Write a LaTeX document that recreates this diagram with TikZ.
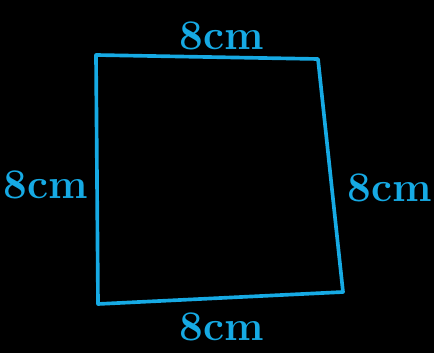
\documentclass[tikz,border=0pt]{standalone}
\usepackage{tikz}
\usetikzlibrary{positioning}
\definecolor{PenBlue}{RGB}{22,170,228}
\begin{document}
\begin{tikzpicture}[x=0.025cm, y=-0.025cm,
	side/.style={draw=PenBlue, line width=2.6pt, line join=round, line cap=round},
	len/.style={text=PenBlue, font=\fontsize{30}{30}\selectfont\bfseries, inner sep=0pt}]
	% fondo negro
	\fill[black] (0,0) rectangle (434,353);
	\useasboundingbox (0,0) rectangle (434,353);
	% esquinas del cuadrado
	\coordinate (tl) at (96,55);
	\coordinate (tr) at (318,59);
	\coordinate (br) at (343,292);
	\coordinate (bl) at (98,304);
	\draw[side] (tl) -- (tr) -- (br) -- (bl) -- cycle;
	% medidas de los lados
	\node[len] (ltop) at (222,36) {8cm};
	\node[len] (lleft) at (46,185) {8cm};
	\node[len] (lright) at (390,188) {8cm};
	\node[len] (lbot) at (222,327) {8cm};
\end{tikzpicture}
\end{document}
